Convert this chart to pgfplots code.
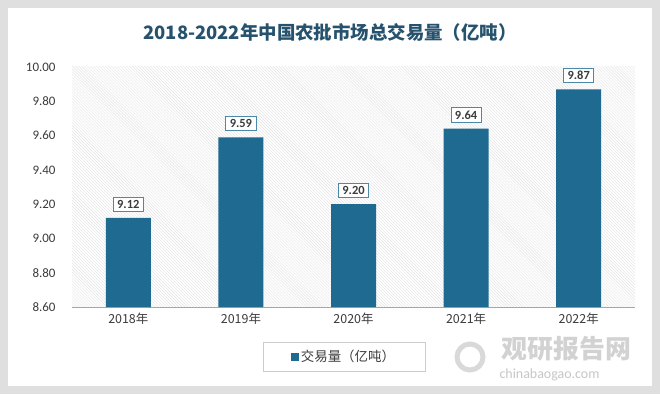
\documentclass[border=0pt]{standalone}
\usepackage{pgfplots}
\pgfplotsset{compat=1.18}
\usetikzlibrary{patterns}
\usepackage{fontspec}
\setmainfont{Carlito}
\newfontfamily\cjk{Noto Sans CJK SC}
\definecolor{barc}{RGB}{31,106,145}
\definecolor{titlec}{RGB}{38,82,110}
\definecolor{txt}{RGB}{60,60,60}
\begin{document}
\begin{tikzpicture}[x=1bp,y=1bp]
\fill[white] (0,0) rectangle (660,392);
\draw[gray!25, line width=8bp] (4,4) rectangle (656,390);
\node[font={\cjk\bfseries\fontsize{18.5}{22}\selectfont}, text=titlec] at (330,362) {2018-2022年中国农批市场总交易量（亿吨）};
% watermark
\node[font={\cjk\bfseries\fontsize{26}{28}\selectfont}, text=gray!35, anchor=west] at (498,45) {观研报告网};
\node[font={\fontsize{14}{16}\selectfont}, text=gray!45, anchor=west] at (496,19) {chinabaogao.com};
\draw[gray!30, line width=5bp] (470,37) circle (13);
\begin{axis}[
  at={(72bp,87bp)}, anchor=south west,
  scale only axis, width=563bp, height=240bp,
  xmin=-0.5, xmax=4.5, ymin=8.6, ymax=10.0,
  ytick={8.6,8.8,...,10.01},
  xtick={0,1,2,3,4},
  xticklabels={2018年,2019年,2020年,2021年,2022年},
  x tick label style={font={\cjk\fontsize{12.5}{14}\selectfont}, text=txt, yshift=-2bp},
  y tick label style={font={\fontsize{13}{15}\selectfont}, text=txt, xshift=-13bp},
  /pgf/number format/assume math mode=true,
  yticklabel style={/pgf/number format/.cd, fixed, fixed zerofill, precision=2},
  axis y line*=left,
  y axis line style={draw=none},
  axis x line*=bottom,
  x axis line style={gray!70, -},
  major tick length=0pt,
  axis background/.style={pattern=north west lines, pattern color=gray!22},
  ybar, bar width=45bp,
  nodes near coords,
  nodes near coords style={font={\bfseries\fontsize{12.5}{14}\selectfont}, text=txt, fill=white, draw=barc!80, line width=0.8pt, inner xsep=4bp, inner ysep=3bp, yshift=6bp, /pgf/number format/.cd, fixed, fixed zerofill, precision=2},
  legend style={at={(0.483,-0.208)}, anchor=center, draw=gray!40, font={\cjk\fontsize{13.5}{15}\selectfont}, text=txt, inner xsep=28bp, inner ysep=6bp},
  legend image code/.code={\fill[barc] (0bp,-4bp) rectangle (8bp,4bp);},
  clip=false,
]
\addplot[fill=barc, draw=none] coordinates {(0,9.12) (1,9.59) (2,9.20) (3,9.64) (4,9.87)};
\addlegendentry{交易量（亿吨）}
\end{axis}
\end{tikzpicture}
\end{document}
